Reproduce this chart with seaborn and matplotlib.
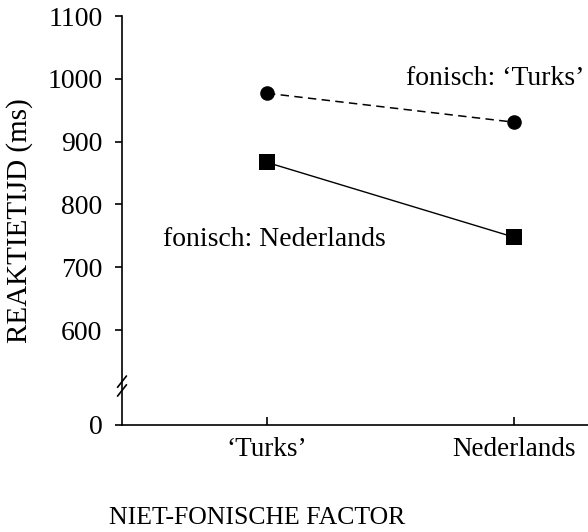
import matplotlib
matplotlib.use("Agg")
import matplotlib.pyplot as plt
import seaborn as sns
import pandas as pd

categories = ["\u2018Turks\u2019", "Nederlands"]
fonisch_turks = [977, 931]
fonisch_nederlands = [867, 748]
series_names = ["fonisch: \u2018Turks\u2019", "fonisch: Nederlands"]
ytick_values = [600, 700, 800, 900, 1000, 1100]
zero_pos = 449  # display position of broken-axis "0"

sns.set_theme(style="ticks")
plt.rcParams['font.family'] = ['Liberation Serif', 'DejaVu Serif']
plt.rcParams['text.color'] = 'black'
plt.rcParams['xtick.color'] = 'black'
plt.rcParams['ytick.color'] = 'black'
plt.rcParams['axes.edgecolor'] = 'black'

df = pd.DataFrame({
    "x": [0, 1, 0, 1],
    "y": fonisch_turks + fonisch_nederlands,
    "series": [series_names[0]] * 2 + [series_names[1]] * 2,
})

fig = plt.figure(figsize=(5.88, 5.32), dpi=100)
ax = fig.add_axes([122 / 588, 1 - 425 / 532, 1 - 122 / 588, (425 - 16) / 532])

sub1 = df[df.series == series_names[0]]
sub2 = df[df.series == series_names[1]]
sns.lineplot(data=sub1, x="x", y="y", ax=ax, color="black", linestyle=(0, (5.5, 3.5)),
             linewidth=1.1, marker="o", markersize=10.5, markeredgewidth=0)
sns.lineplot(data=sub2, x="x", y="y", ax=ax, color="black", linestyle="-",
             linewidth=1.0, marker="s", markersize=11.5, markeredgewidth=0)

ax.set_xlim(-0.587, 1.30)
ax.set_ylim(zero_pos, 1100)
ax.set_xticks([0, 1])
ax.set_xticklabels(categories, fontsize=19.5)
ax.set_yticks([zero_pos] + ytick_values)
ax.set_yticklabels(["0"] + [str(v) for v in ytick_values], fontsize=20)
ax.tick_params(axis="y", direction="out", length=5, width=1.2, pad=9, colors="black")
ax.tick_params(axis="x", direction="in", length=6, width=1.2, pad=9, colors="black")
ax.set_xlabel("")
ax.set_ylabel("")
for s in ["top", "right"]:
    ax.spines[s].set_visible(False)
ax.spines["left"].set_linewidth(1.2)
ax.spines["bottom"].set_linewidth(1.2)
ax.spines["left"].set_bounds(zero_pos, 1100)

# break marks on y axis
for yb in [504, 518]:
    ax.plot([-0.605, -0.569], [yb - 9, yb + 9], color="black", lw=1.2,
            clip_on=False, transform=ax.transData)

ax.text(1.285, 1000, series_names[0], fontsize=20, ha="right", va="center",
        color="black")
ax.text(-0.42, 745, series_names[1], fontsize=20, ha="left", va="center",
        color="black")

fig.text(20 / 588, 1 - 221 / 532, "REAKTIETIJD (ms)", rotation=90,
         ha="center", va="center", fontsize=21, color="black")
fig.text(257 / 588, 1 - 518 / 532, "NIET-FONISCHE FACTOR",
         ha="center", va="center", fontsize=18.5, color="black")

fig.savefig("out.png", dpi=100)
